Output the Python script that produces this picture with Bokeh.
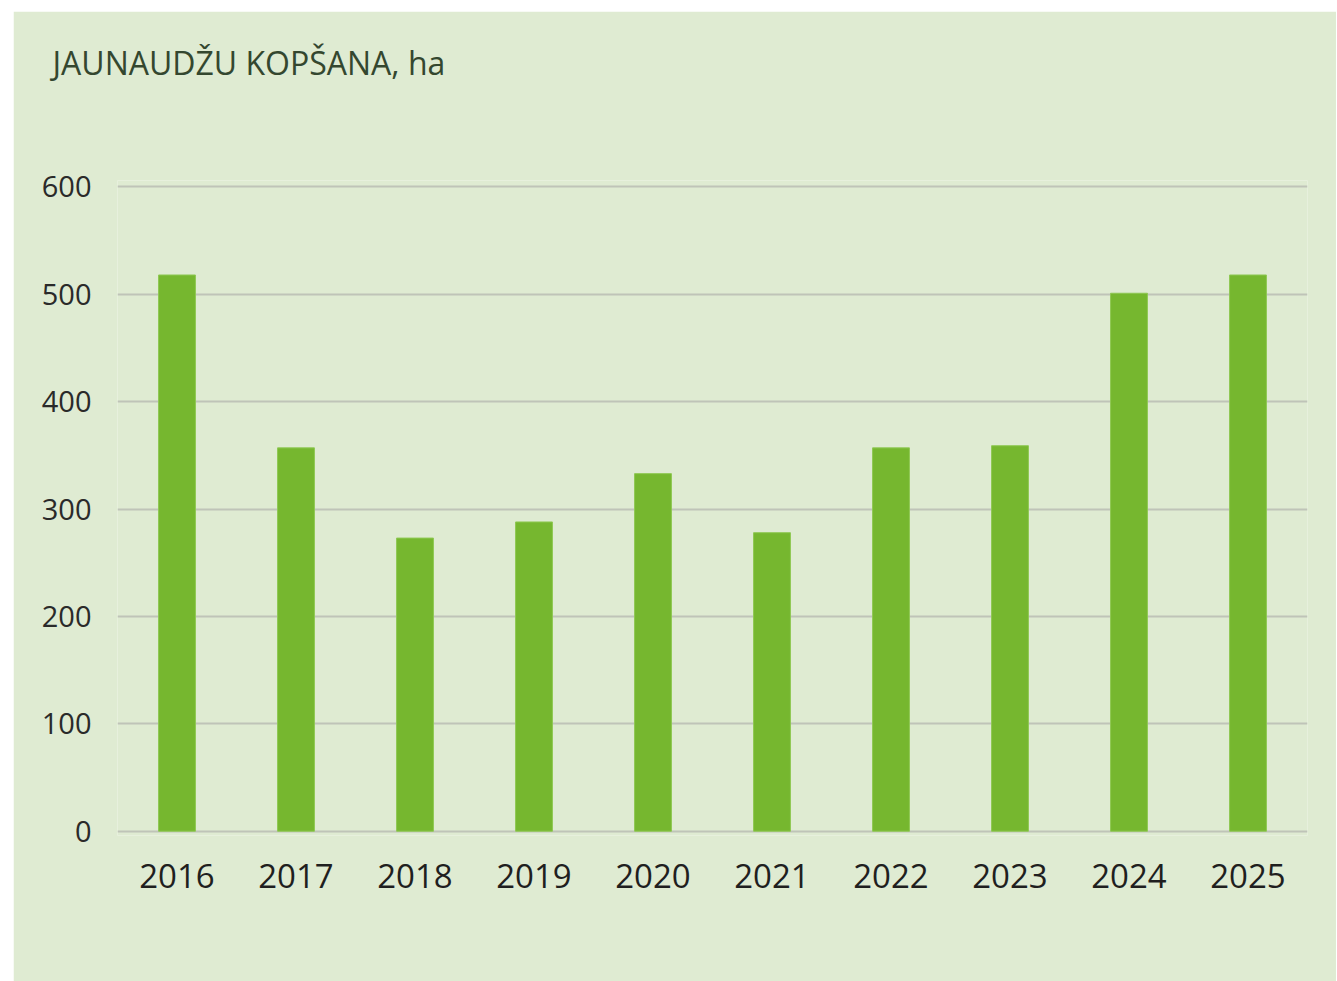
from bokeh.plotting import figure
from bokeh.models import FactorRange, Range1d, Spacer, Label, FixedTicker
from bokeh.layouts import column, row
from bokeh.embed import file_html
from bokeh.resources import INLINE

years = ["2016", "2017", "2018", "2019", "2020", "2021", "2022", "2023", "2024", "2025"]
values = [518, 357, 273, 288, 333, 278, 357, 359, 501, 518]
y_ticks = [0, 100, 200, 300, 400, 500, 600]
title_text = "JAUNAUDŽU KOPŠANA, ha"

BG = "#DFEBD2"
FONT = "Open Sans"

p = figure(
    x_range=FactorRange(*years, range_padding=0),
    y_range=Range1d(-4, 606),
    width=1323, height=970,
    output_backend="svg", toolbar_location=None,
    min_border_left=104, min_border_right=29,
    min_border_top=169, min_border_bottom=146,
    background_fill_color=BG, border_fill_color=BG,
    outline_line_color=None,
)

title = Label(x=-65, y=118, x_units="screen", y_units="screen", text=title_text,
              text_font=FONT, text_font_size="32px", text_color="#34472F",
              text_baseline="middle", text_align="left")
p.add_layout(title, "above")

p.vbar(x=years, top=values, width=0.31, fill_color="#76B72F",
       line_color="#8FC853", line_width=1)

p.xgrid.grid_line_color = None
p.ygrid.grid_line_color = "#BFC4B8"
p.ygrid.grid_line_width = 2
p.yaxis.ticker = FixedTicker(ticks=y_ticks)

for ax in (p.xaxis, p.yaxis):
    ax.axis_line_color = None
    ax.major_tick_line_color = None
    ax.minor_tick_line_color = None
    ax.major_tick_out = 0
    ax.major_tick_in = 0

p.yaxis.major_label_text_font = FONT
p.yaxis.major_label_text_font_size = "29px"
p.yaxis.major_label_text_color = "#2A2A2A"
p.yaxis.major_label_standoff = 26

p.xaxis.major_label_text_font = FONT
p.xaxis.major_label_text_font_size = "33px"
p.xaxis.major_label_text_color = "#1F1F1F"
p.xaxis.major_label_standoff = 28

layout = column(Spacer(height=11), row(Spacer(width=13), p))

open("out.html", "w").write(file_html(layout, INLINE))
